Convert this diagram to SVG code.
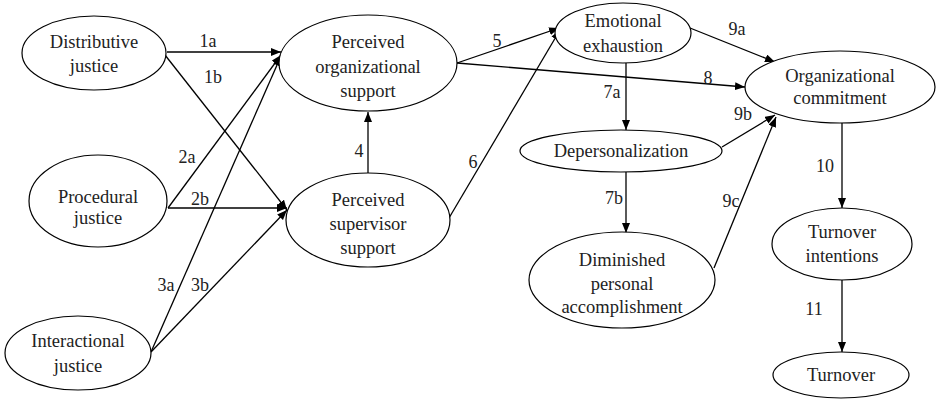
<svg xmlns="http://www.w3.org/2000/svg" width="941" height="399" viewBox="0 0 941 399">
<defs>
<style>
.n ellipse{fill:#fff;stroke:#000;stroke-width:1.2}
text{font-family:"Liberation Serif","Times New Roman",serif;font-size:18.5px;fill:#222;text-anchor:middle}
.c line{stroke:#000;stroke-width:1.3}
.lab text{font-size:18px}
</style>
<marker id="ah" markerUnits="userSpaceOnUse" markerWidth="11" markerHeight="9" refX="10" refY="4" orient="auto">
<path d="M0,0 L10,4 L0,8 z" fill="#000"/>
</marker>
</defs>
<rect width="941" height="399" fill="#fff"/>
<g class="c" marker-end="url(#ah)">
<line x1="167" y1="52" x2="281" y2="52" marker-end="url(#ah)"/>
<line x1="165" y1="55" x2="287" y2="210" marker-end="url(#ah)"/>
<line x1="168" y1="208" x2="281" y2="55" marker-end="url(#ah)"/>
<line x1="168" y1="208" x2="287" y2="208" marker-end="url(#ah)"/>
<line x1="151" y1="352" x2="281" y2="56" marker-end="url(#ah)"/>
<line x1="151" y1="352" x2="287" y2="210" marker-end="url(#ah)"/>
<line x1="368" y1="173" x2="368" y2="112" marker-end="url(#ah)"/>
<line x1="457" y1="63" x2="559" y2="28" marker-end="url(#ah)"/>
<line x1="449" y1="218" x2="560" y2="30" marker-end="url(#ah)"/>
<line x1="457" y1="63" x2="745" y2="87" marker-end="url(#ah)"/>
<line x1="690" y1="28" x2="775" y2="62" marker-end="url(#ah)"/>
<line x1="626" y1="63" x2="626" y2="130" marker-end="url(#ah)"/>
<line x1="626" y1="172" x2="626" y2="233" marker-end="url(#ah)"/>
<line x1="722" y1="147" x2="775" y2="115" marker-end="url(#ah)"/>
<line x1="714" y1="268" x2="776" y2="117" marker-end="url(#ah)"/>
<line x1="842" y1="123" x2="842" y2="208" marker-end="url(#ah)"/>
<line x1="842" y1="280" x2="842" y2="352" marker-end="url(#ah)"/>
</g>
<g class="lab">
<text x="208" y="47">1a</text>
<text x="213" y="83">1b</text>
<text x="187" y="163">2a</text>
<text x="200" y="205">2b</text>
<text x="166" y="291">3a</text>
<text x="200" y="291">3b</text>
<text x="359" y="157">4</text>
<text x="497" y="47">5</text>
<text x="473" y="168">6</text>
<text x="708" y="84">8</text>
<text x="737" y="35">9a</text>
<text x="612" y="98">7a</text>
<text x="614" y="204">7b</text>
<text x="743" y="120">9b</text>
<text x="731" y="207">9c</text>
<text x="825" y="172">10</text>
<text x="814" y="315">11</text>
</g>
<g id="distributive" class="n"><ellipse cx="94" cy="53" rx="72" ry="37"/><text x="94" y="48">Distributive</text><text x="94" y="72">justice</text></g>
<g id="procedural" class="n"><ellipse cx="98" cy="201" rx="69" ry="46"/><text x="98" y="203">Procedural</text><text x="98" y="224">justice</text></g>
<g id="interactional" class="n"><ellipse cx="78" cy="353" rx="73" ry="37"/><text x="78" y="347">Interactional</text><text x="78" y="372">justice</text></g>
<g id="pos" class="n"><ellipse cx="368" cy="63" rx="89" ry="48"/><text x="368" y="48">Perceived</text><text x="368" y="73">organizational</text><text x="368" y="97">support</text></g>
<g id="pss" class="n"><ellipse cx="368" cy="220" rx="82" ry="47"/><text x="368" y="206">Perceived</text><text x="368" y="230">supervisor</text><text x="368" y="254">support</text></g>
<g id="emotional" class="n"><ellipse cx="623" cy="33" rx="68" ry="30"/><text x="623" y="27">Emotional</text><text x="623" y="52">exhaustion</text></g>
<g id="depersonalization" class="n"><ellipse cx="621" cy="151" rx="101" ry="21"/><text x="621" y="157">Depersonalization</text></g>
<g id="diminished" class="n"><ellipse cx="622" cy="280" rx="93" ry="48"/><text x="622" y="266">Diminished</text><text x="622" y="290">personal</text><text x="622" y="313">accomplishment</text></g>
<g id="commitment" class="n"><ellipse cx="840" cy="87" rx="95" ry="36"/><text x="840" y="82">Organizational</text><text x="840" y="104">commitment</text></g>
<g id="intentions" class="n"><ellipse cx="842" cy="244" rx="70" ry="36"/><text x="842" y="238">Turnover</text><text x="842" y="262">intentions</text></g>
<g id="turnover" class="n"><ellipse cx="841" cy="375" rx="68" ry="23"/><text x="841" y="381">Turnover</text></g>
</svg>
